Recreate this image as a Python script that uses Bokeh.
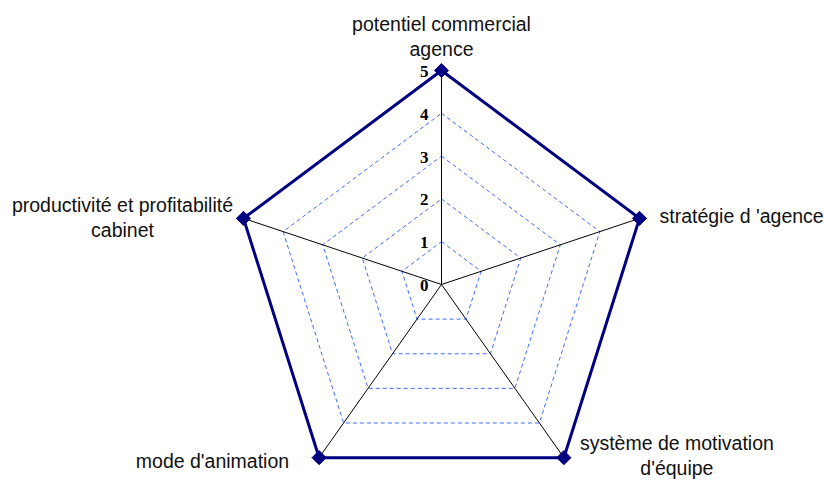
import numpy as np
from bokeh.plotting import figure
from bokeh.models import Range1d
from bokeh.core.properties import value
from bokeh.embed import file_html
from bokeh.resources import INLINE

# ---- data ----
categories = [
    "potentiel commercial\nagence",
    "stratégie d 'agence",
    "système de motivation\nd'équipe",
    "mode d'animation",
    "productivité et profitabilité\ncabinet",
]
values = [5, 5, 5, 5, 5]
tick_values = [0, 1, 2, 3, 4, 5]
tick_labels = ["0", "1", "2", "3", "4", "5"]
grid_levels = [1, 2, 3, 4]
r_max = 5

# ---- layout (pixels) ----
W, H = 824, 481
cx, cy = 441, 284          # centre of radar in canvas pixels
sy = 42.8                  # pixels per unit vertically
sx = 41.64                 # pixels per unit horizontally

n = len(categories)
ang = np.pi / 2 - np.arange(n) * 2 * np.pi / n
cosa, sina = np.cos(ang), np.sin(ang)

p = figure(width=W, height=H, output_backend="svg", toolbar_location=None,
           x_range=Range1d(-cx / sx, (W - cx) / sx),
           y_range=Range1d(-(H - cy) / sy, cy / sy),
           min_border=0, min_border_left=0, min_border_right=0,
           min_border_top=0, min_border_bottom=0)
p.axis.visible = False
p.grid.visible = False
p.outline_line_color = None
p.background_fill_color = "white"
p.border_fill_color = "white"

# grid pentagons
gx = [list(lv * np.append(cosa, cosa[0])) for lv in grid_levels]
gy = [list(lv * np.append(sina, sina[0])) for lv in grid_levels]
p.multi_line(gx, gy, line_color="#3f6cff", line_width=1, line_dash="4 3")

# spokes
p.segment(x0=np.zeros(n), y0=np.zeros(n), x1=r_max * cosa, y1=r_max * sina,
          line_color="black", line_width=1)

# data polygon
vals = np.array(values, dtype=float)
dx = vals * cosa
dy = vals * sina
p.line(np.append(dx, dx[0]), np.append(dy, dy[0]), line_color="#000080",
       line_width=3, line_join="miter")
p.scatter(dx, dy, marker="square", size=10, angle=np.pi / 4,
          fill_color="#000080", line_color="#000080")

# tick labels on vertical axis
p.text(x=np.zeros(len(tick_values)), y=tick_values, text=tick_labels,
       text_align="right", text_baseline="middle", x_offset=-13, y_offset=1,
       text_font=value("Liberation Serif"), text_font_style="bold",
       text_font_size="17px", text_color="black")

# category labels
offs = [  # (align, x_offset, y_offset)
    ("center", 0, -34),
    ("left", 20, -2),
    ("center", 113, -2),
    ("right", -30, 3),
    ("center", -121, -1),
]
for i, lab in enumerate(categories):
    al, xo, yo = offs[i]
    p.text(x=[r_max * cosa[i]], y=[r_max * sina[i]], text=[lab],
           text_align=al, text_baseline="middle", x_offset=xo, y_offset=yo,
           text_font=value("Liberation Sans"), text_font_size="19.5px",
           text_color="#111111", text_line_height=1.15)

open("out.html", "w").write(file_html(p, INLINE))
